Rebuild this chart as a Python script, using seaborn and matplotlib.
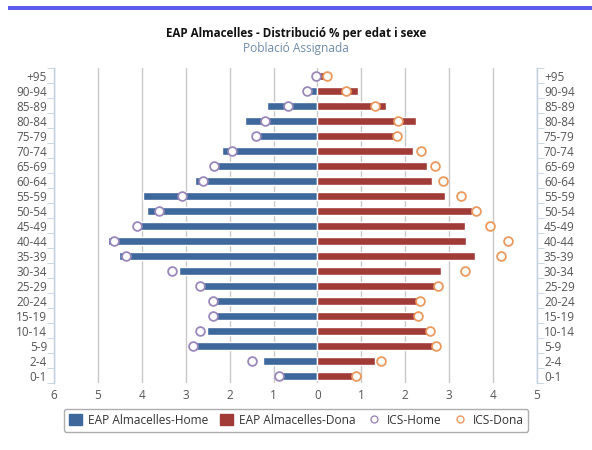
import numpy as np
import pandas as pd
import matplotlib.pyplot as plt
import seaborn as sns
from matplotlib.lines import Line2D
from matplotlib.patches import Patch
from matplotlib.ticker import FixedLocator, FuncFormatter

# age groups, top to bottom
ages = ["+95", "90-94", "85-89", "80-84", "75-79", "70-74", "65-69", "60-64",
        "55-59", "50-54", "45-49", "40-44", "35-39", "30-34", "25-29", "20-24",
        "15-19", "10-14", "5-9", "2-4", "0-1"]

# % of population
eap_home = [0.0, 0.31, 1.16, 1.65, 1.52, 2.17, 2.30, 2.78, 3.98, 3.89, 4.05,
            4.78, 4.51, 3.16, 2.60, 2.30, 2.32, 2.52, 2.79, 1.23, 0.81]
eap_dona = [0.31, 0.93, 1.57, 2.25, 1.77, 2.17, 2.50, 2.61, 2.91, 3.52, 3.37,
            3.39, 3.59, 2.82, 2.85, 2.29, 2.25, 2.52, 2.67, 1.32, 0.81]
ics_home = [0.03, 0.24, 0.67, 1.20, 1.40, 1.95, 2.35, 2.61, 3.08, 3.61, 4.11,
            4.64, 4.36, 3.31, 2.67, 2.39, 2.39, 2.67, 2.83, 1.50, 0.88]
ics_dona = [0.21, 0.64, 1.30, 1.84, 1.82, 2.35, 2.68, 2.86, 3.26, 3.60, 3.92,
            4.35, 4.17, 3.36, 2.75, 2.34, 2.29, 2.57, 2.71, 1.45, 0.87]

c_home = "#3e679c"
c_dona = "#a03b38"
c_ics_home = "#9b88bb"
c_ics_dona = "#eb9a5f"

df = pd.DataFrame({"edat": ages,
                   "home": -np.array(eap_home),
                   "dona": eap_dona,
                   "ics_home": -np.array(ics_home),
                   "ics_dona": ics_dona})

sns.set_style("white")
plt.rcParams["font.family"] = ["Open Sans", "DejaVu Sans"]

fig = plt.figure(figsize=(5.92, 4.5), dpi=100)
ax = fig.add_axes([0.0912, 0.1478, 0.8159, 0.70])

sns.barplot(data=df, x="home", y="edat", order=ages, color=c_home,
            orient="h", width=0.5, saturation=1, ax=ax, zorder=2)
sns.barplot(data=df, x="dona", y="edat", order=ages, color=c_dona,
            orient="h", width=0.5, saturation=1, ax=ax, zorder=2)
sns.scatterplot(data=df, x="ics_home", y="edat", ax=ax, s=40, color="white",
                edgecolor=c_ics_home, linewidth=1.3, zorder=3)
sns.scatterplot(data=df, x="ics_dona", y="edat", ax=ax, s=40, color="white",
                edgecolor=c_ics_dona, linewidth=1.3, zorder=3)

ax.set_xlim(-6, 5)
ax.set_ylim(len(ages) - 0.5, -0.5)
ax.set_xticks(range(-6, 6))
ax.xaxis.set_major_formatter(FuncFormatter(lambda v, p: f"{abs(int(v))}"))
ax.grid(axis="x", color="#c8c8c8", linewidth=1, zorder=0)
ax.set_axisbelow(True)
ax.set_xlabel("")
ax.set_ylabel("")

for s in ["top", "bottom"]:
    ax.spines[s].set_visible(False)
for s in ["left", "right"]:
    ax.spines[s].set_color("#c0d0e0")
    ax.spines[s].set_linewidth(1)

ax.yaxis.set_minor_locator(FixedLocator(np.arange(-0.5, len(ages), 1)))
ax.tick_params(axis="y", which="major", length=0, labelsize=8.5,
               labelcolor="#555555", left=True, right=True,
               labelleft=True, labelright=True, pad=5)
ax.tick_params(axis="y", which="minor", length=5, color="#c0d0e0",
               left=True, right=True)
ax.tick_params(axis="x", length=0, labelsize=8.5, labelcolor="#555555", pad=4)

fig.text(0.5, 0.926, "EAP Almacelles - Distribució % per edat i sexe",
         ha="center", va="center", fontsize=8.4, fontweight="bold",
         color="#111111")
fig.text(0.5, 0.892, "Població Assignada", ha="center", va="center",
         fontsize=8.6, color="#6e8cab")

# top accent bar
fig.add_artist(plt.Rectangle((0.013, 0.978), 0.987, 0.009,
                             transform=fig.transFigure, color="#5c5cf0",
                             lw=0))

handles = [Patch(facecolor=c_home, edgecolor=c_home),
           Patch(facecolor=c_dona, edgecolor=c_dona),
           Line2D([], [], ls="", marker="o", mfc="white", mec=c_ics_home,
                  ms=5, mew=1),
           Line2D([], [], ls="", marker="o", mfc="white", mec=c_ics_dona,
                  ms=5, mew=1)]
labels = ["EAP Almacelles-Home", "EAP Almacelles-Dona", "ICS-Home", "ICS-Dona"]
leg = fig.legend(handles, labels, loc="center", bbox_to_anchor=(0.5, 0.066),
                 ncol=4, fontsize=8.6, frameon=True, handlelength=1.1,
                 handleheight=1.1, handletextpad=0.5, columnspacing=1.0,
                 borderpad=0.4, fancybox=True)
leg.get_frame().set_edgecolor("#999999")
leg.get_frame().set_linewidth(1)
for t in leg.get_texts():
    t.set_color("#333333")

fig.savefig("out.png", dpi=100)
